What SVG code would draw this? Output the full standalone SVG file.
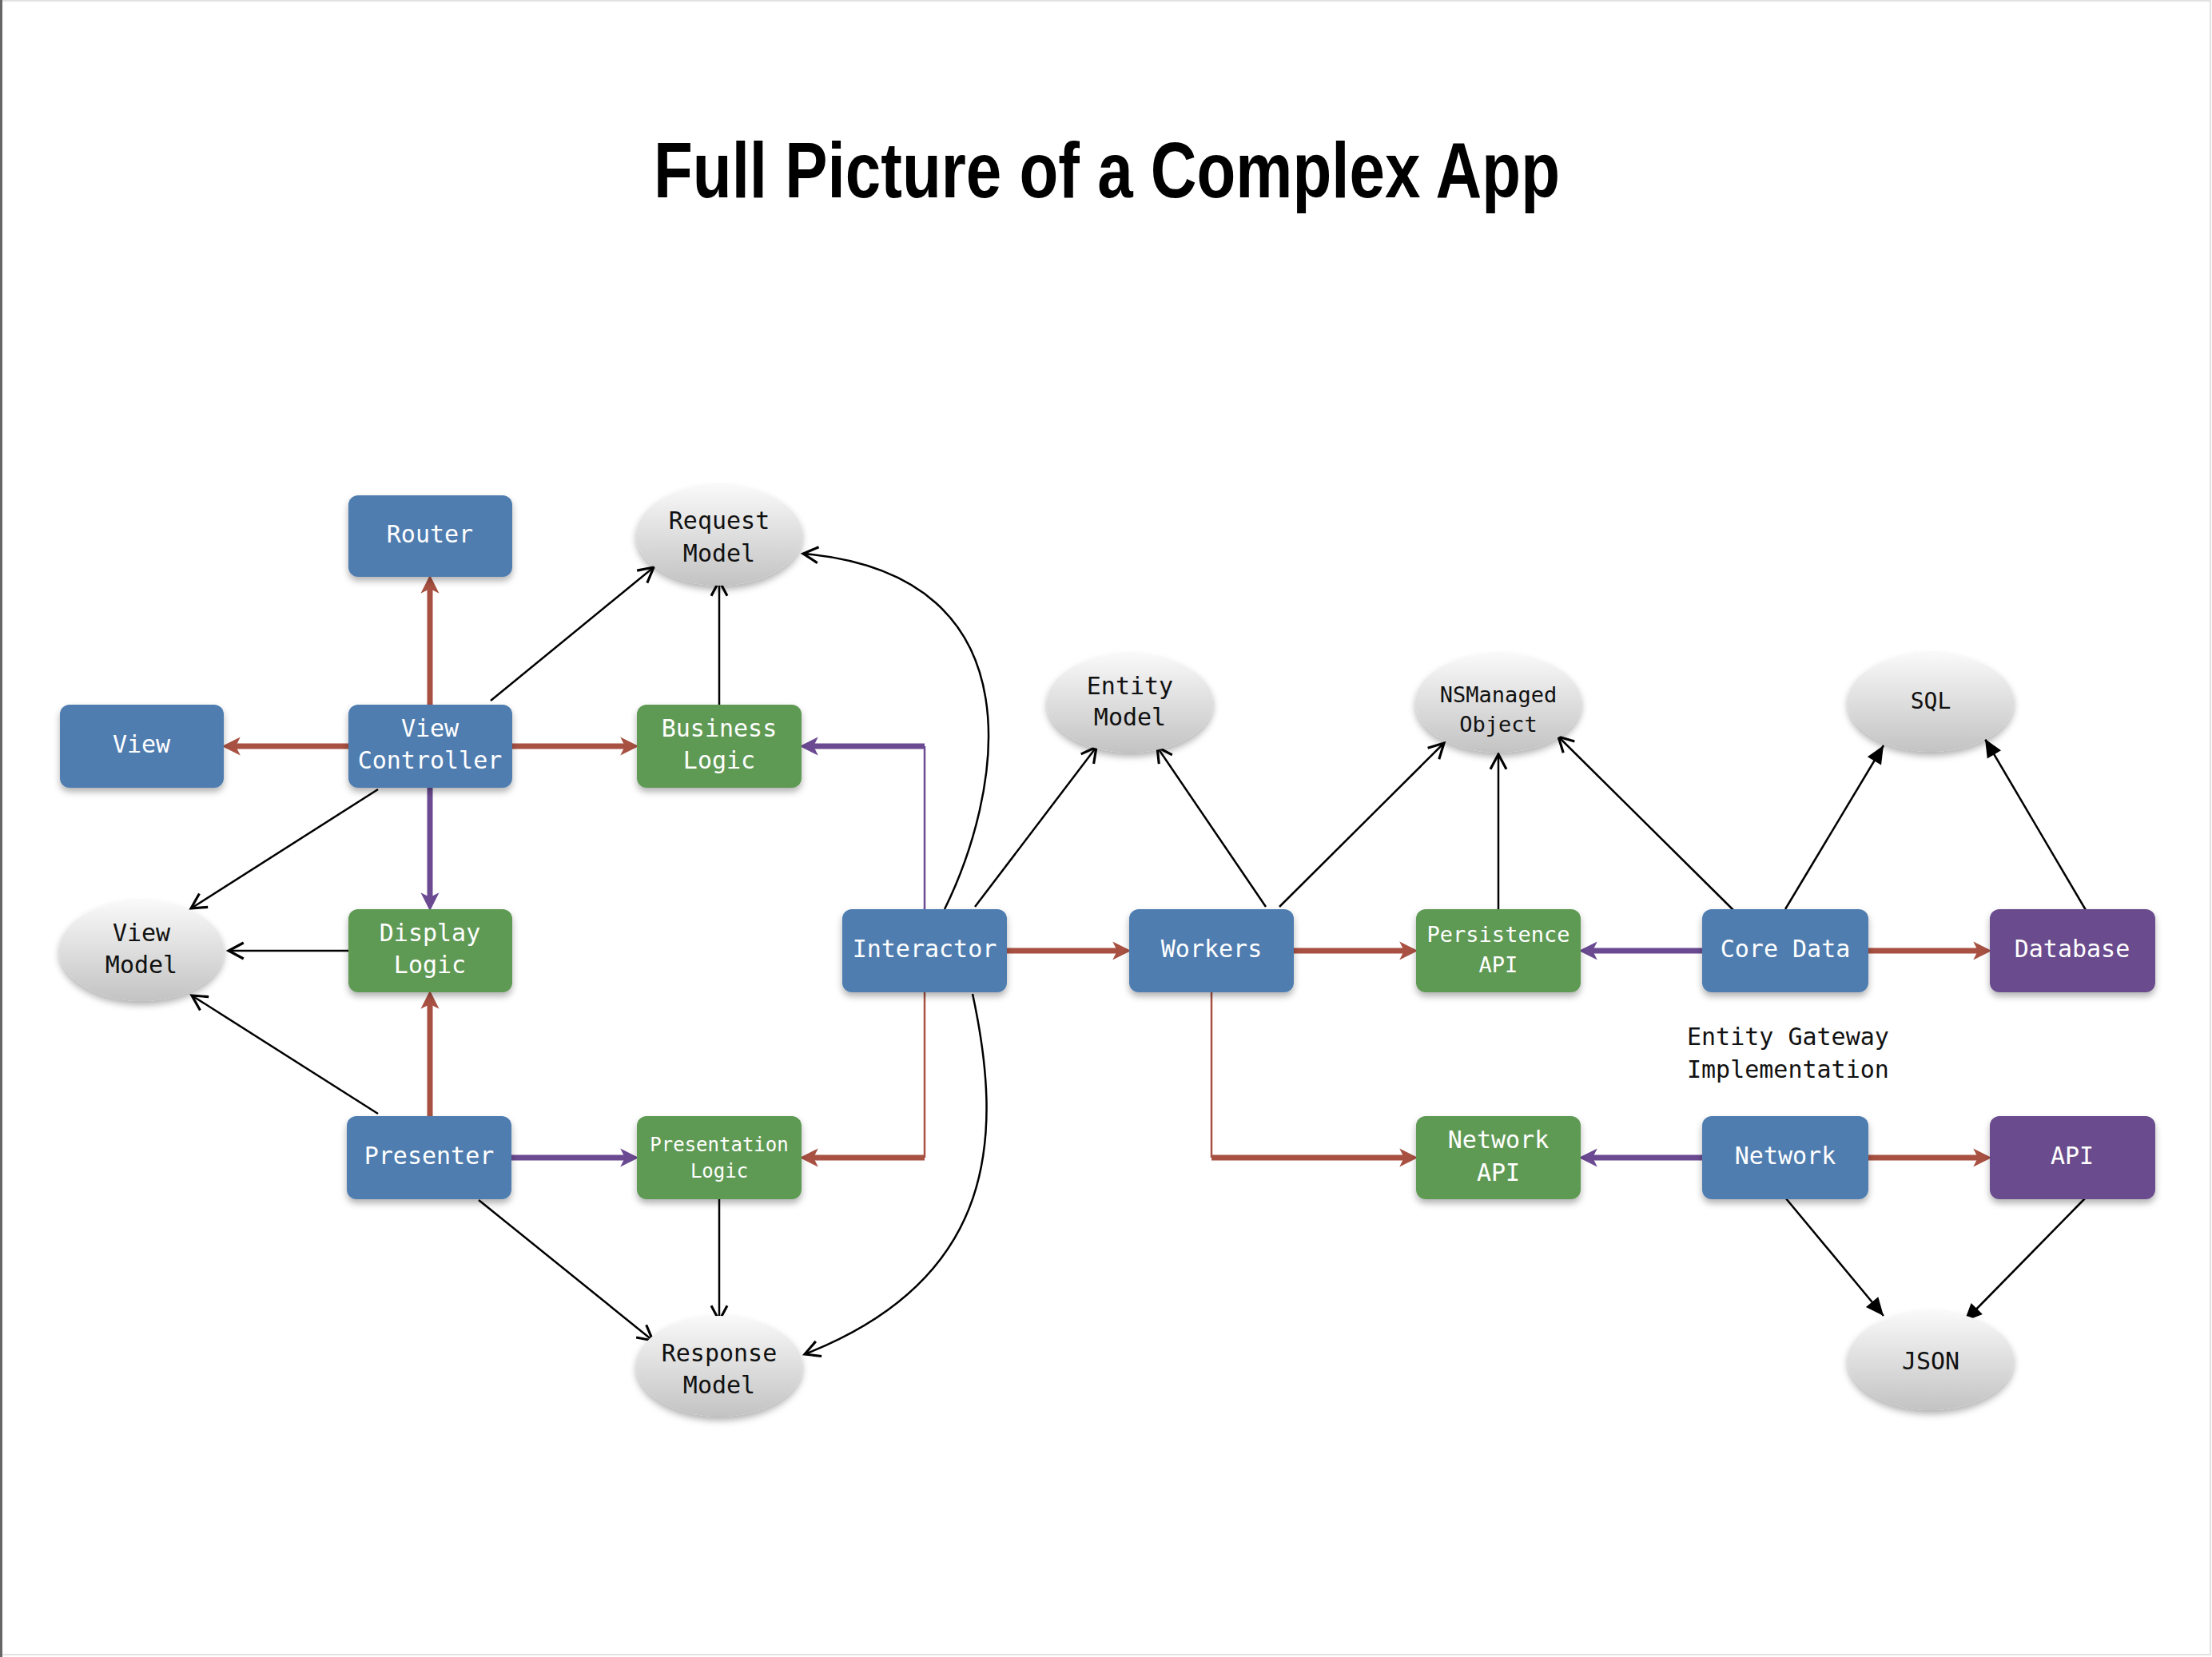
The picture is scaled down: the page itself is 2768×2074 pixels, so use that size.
<svg xmlns="http://www.w3.org/2000/svg" width="2768" height="2074" viewBox="0 0 2768 2074">
<style>
.box{stroke:none;filter:url(#sh)}
.blue{fill:#4F7DB0}
.green{fill:#5F9A55}
.purp{fill:#6A4C8D}
.ell{fill:url(#eg);filter:url(#sh)}
.t{font-family:"DejaVu Sans Mono",monospace;font-size:30px;text-anchor:middle}
.s27{font-size:27px}
.s24{font-size:24px}
.s28{font-size:28px}
.st{text-anchor:start}
.w{fill:#fff}
.k{fill:#111}
.red{stroke:#A85142;stroke-width:7;fill:none}
.pur{stroke:#6B4A92;stroke-width:7;fill:none}
.redthin{stroke:#A85142;stroke-width:2.5;fill:none}
.purthin{stroke:#6B4A92;stroke-width:2.5;fill:none}
.blk{stroke:#000;stroke-width:2.5;fill:none;marker-end:url(#open)}
.blkf{stroke:#000;stroke-width:2.5;fill:none;marker-end:url(#fill)}
</style>
<defs>
<filter id="sh" x="-20%" y="-20%" width="140%" height="150%">
<feDropShadow dx="0" dy="5" stdDeviation="4" flood-color="#000" flood-opacity="0.3"/>
</filter>
<linearGradient id="eg" x1="0" y1="0" x2="0" y2="1">
<stop offset="0" stop-color="#f9f9f9"/>
<stop offset="1" stop-color="#c3c3c3"/>
</linearGradient>
<marker id="rh" markerUnits="userSpaceOnUse" markerWidth="30" markerHeight="30" refX="5" refY="0" viewBox="-2 -12 26 24" orient="auto" overflow="visible">
<path d="M0,-10 L20,0 L0,10 L5,0 Z" fill="#A85142"/>
</marker>
<marker id="ph" markerUnits="userSpaceOnUse" markerWidth="30" markerHeight="30" refX="5" refY="0" viewBox="-2 -12 26 24" orient="auto" overflow="visible">
<path d="M0,-10 L20,0 L0,10 L5,0 Z" fill="#6B4A92"/>
</marker>
<marker id="open" markerUnits="userSpaceOnUse" markerWidth="30" markerHeight="30" refX="0" refY="0" viewBox="-20 -12 24 24" orient="auto" overflow="visible">
<path d="M-15,-8 L0,0 L-15,8" fill="none" stroke="#000" stroke-width="2.5"/>
</marker>
<marker id="fill" markerUnits="userSpaceOnUse" markerWidth="30" markerHeight="30" refX="0" refY="0" viewBox="-20 -12 24 24" orient="auto" overflow="visible">
<path d="M-18,-8 L0,0 L-18,8 Z" fill="#000"/>
</marker>
</defs>
<rect x="0" y="0" width="2768" height="2074" fill="#fff"/>
<rect x="1" y="1" width="2765" height="2070" fill="none" stroke="#e2e2e2" stroke-width="2"/>
<line x1="1.5" y1="0" x2="1.5" y2="2074" stroke="#666" stroke-width="3"/>

<text x="1385" y="247" font-family="'Liberation Sans',Arial,sans-serif" font-weight="bold" font-size="98" text-anchor="middle" textLength="1134" lengthAdjust="spacingAndGlyphs" fill="#000">Full Picture of a Complex App</text>

<g id="connectors">
<path class="red" d="M538,882 L538,737" marker-end="url(#rh)"/>
<path class="red" d="M436,934 L295,934" marker-end="url(#rh)"/>
<path class="red" d="M641,934 L782,934" marker-end="url(#rh)"/>
<path class="pur" d="M538,986 L538,1123" marker-end="url(#ph)"/>
<path class="red" d="M538,1397 L538,1257" marker-end="url(#rh)"/>
<path class="pur" d="M640,1449 L782,1449" marker-end="url(#ph)"/>
<path class="purthin" d="M1157,1138 L1157,934"/>
<path class="pur" d="M1157,934 L1018,934" marker-end="url(#ph)"/>
<path class="redthin" d="M1157,1242 L1157,1449"/>
<path class="red" d="M1157,1449 L1018,1449" marker-end="url(#rh)"/>
<path class="red" d="M1260,1190 L1398,1190" marker-end="url(#rh)"/>
<path class="red" d="M1619,1190 L1757,1190" marker-end="url(#rh)"/>
<path class="pur" d="M2130,1190 L1993,1190" marker-end="url(#ph)"/>
<path class="red" d="M2338,1190 L2475,1190" marker-end="url(#rh)"/>
<path class="redthin" d="M1516,1242 L1516,1449"/>
<path class="red" d="M1516,1449 L1757,1449" marker-end="url(#rh)"/>
<path class="pur" d="M2130,1449 L1993,1449" marker-end="url(#ph)"/>
<path class="red" d="M2338,1449 L2475,1449" marker-end="url(#rh)"/>

<path class="blk" d="M614,877 L818,710"/>
<path class="blk" d="M900,882 L900,727"/>
<path class="blk" d="M1182,1138 C1250,1000 1310,720 1005,693"/>
<path class="blk" d="M1217,1244 C1255,1420 1250,1600 1007,1695"/>
<path class="blk" d="M473,988 L239,1137"/>
<path class="blk" d="M436,1190 L286,1190"/>
<path class="blk" d="M473,1394 L240,1246"/>
<path class="blk" d="M599,1502 L817,1678"/>
<path class="blk" d="M900,1500 L900,1653"/>
<path class="blk" d="M1220,1135 L1372,935"/>
<path class="blk" d="M1584,1135 L1448,935"/>
<path class="blk" d="M1601,1135 L1807,930"/>
<path class="blk" d="M1875,1138 L1875,944"/>
<path class="blk" d="M2170,1140 L1950,922"/>
<path class="blkf" d="M2234,1138 L2357,933"/>
<path class="blkf" d="M2610,1139 L2484,925"/>
<path class="blkf" d="M2234,1499 L2357,1647"/>
<path class="blkf" d="M2610,1499 L2458,1654"/>
</g>

<g id="router"><rect class="box blue" x="436" y="620" width="205" height="102" rx="12"/><text class="t w" x="538" y="679">Router</text></g>
<g id="view"><rect class="box blue" x="75" y="882" width="205" height="104" rx="12"/><text class="t w" x="177" y="942">View</text></g>
<g id="view-controller"><rect class="box blue" x="436" y="882" width="205" height="104" rx="12"/><text class="t w" x="538" y="922">View</text><text class="t w" x="538" y="962">Controller</text></g>
<g id="business-logic"><rect class="box green" x="797" y="882" width="206" height="104" rx="12"/><text class="t w" x="900" y="922">Business</text><text class="t w" x="900" y="962">Logic</text></g>
<g id="display-logic"><rect class="box green" x="436" y="1138" width="205" height="104" rx="12"/><text class="t w" x="538" y="1178">Display</text><text class="t w" x="538" y="1218">Logic</text></g>
<g id="interactor"><rect class="box blue" x="1054" y="1138" width="206" height="104" rx="12"/><text class="t w" x="1157" y="1198">Interactor</text></g>
<g id="workers"><rect class="box blue" x="1413" y="1138" width="206" height="104" rx="12"/><text class="t w" x="1516" y="1198">Workers</text></g>
<g id="persistence-api"><rect class="box green" x="1772" y="1138" width="206" height="104" rx="12"/><text class="t w s27" x="1875" y="1179">Persistence</text><text class="t w s27" x="1875" y="1217">API</text></g>
<g id="core-data"><rect class="box blue" x="2130" y="1138" width="208" height="104" rx="12"/><text class="t w" x="2234" y="1198">Core Data</text></g>
<g id="database"><rect class="box purp" x="2490" y="1138" width="207" height="104" rx="12"/><text class="t w" x="2593" y="1198">Database</text></g>
<g id="presenter"><rect class="box blue" x="434" y="1397" width="206" height="104" rx="12"/><text class="t w" x="537" y="1457">Presenter</text></g>
<g id="presentation-logic"><rect class="box green" x="797" y="1397" width="206" height="104" rx="12"/><text class="t w s24" x="900" y="1441">Presentation</text><text class="t w s24" x="900" y="1474">Logic</text></g>
<g id="network-api"><rect class="box green" x="1772" y="1397" width="206" height="104" rx="12"/><text class="t w" x="1875" y="1437">Network</text><text class="t w" x="1875" y="1478">API</text></g>
<g id="network"><rect class="box blue" x="2130" y="1397" width="208" height="104" rx="12"/><text class="t w" x="2234" y="1457">Network</text></g>
<g id="api"><rect class="box purp" x="2490" y="1397" width="207" height="104" rx="12"/><text class="t w" x="2593" y="1457">API</text></g>

<g id="request-model"><ellipse class="ell" cx="900" cy="670" rx="104" ry="63"/><text class="t k" x="900" y="662">Request</text><text class="t k" x="900" y="703">Model</text></g>
<g id="entity-model"><ellipse class="ell" cx="1414" cy="880" rx="104" ry="62"/><text class="t k" x="1414" y="869">Entity</text><text class="t k" x="1414" y="908">Model</text></g>
<g id="nsmanaged-object"><ellipse class="ell" cx="1875" cy="880" rx="104" ry="62"/><text class="t k s27" x="1875" y="879">NSManaged</text><text class="t k s27" x="1875" y="916">Object</text></g>
<g id="sql"><ellipse class="ell" cx="2416" cy="879" rx="104" ry="62"/><text class="t k s28" x="2416" y="887">SQL</text></g>
<g id="view-model"><ellipse class="ell" cx="177" cy="1190" rx="103" ry="63"/><text class="t k" x="177" y="1178">View</text><text class="t k" x="177" y="1218">Model</text></g>
<g id="response-model"><ellipse class="ell" cx="900" cy="1710" rx="104" ry="63"/><text class="t k" x="900" y="1704">Response</text><text class="t k" x="900" y="1744">Model</text></g>
<g id="json"><ellipse class="ell" cx="2416" cy="1703" rx="104" ry="62"/><text class="t k" x="2416" y="1714">JSON</text></g>

<g id="entity-gateway-label"><text class="t k st" x="2111" y="1308">Entity Gateway</text><text class="t k st" x="2111" y="1349">Implementation</text></g>
</svg>
